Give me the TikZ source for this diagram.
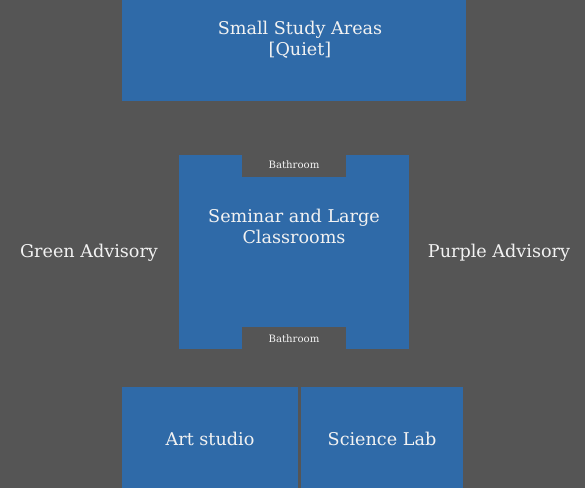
\documentclass[tikz,border=0pt]{standalone}
\usepackage{fontspec}
\setmainfont{DejaVu Serif}
\definecolor{floorbg}{HTML}{555555}
\definecolor{roomblue}{HTML}{2F6AA8}
\definecolor{labeltext}{HTML}{F2F2F2}
\tikzset{
  room/.style={fill=roomblue, draw=none},
  notch/.style={fill=floorbg, draw=none},
  roomlabel/.style={text=labeltext, font=\fontsize{13.2}{15.8}\selectfont, align=center, inner sep=0pt},
  smalllabel/.style={text=labeltext, font=\fontsize{7.6}{9}\selectfont, inner sep=0pt},
}
\begin{document}
\begin{tikzpicture}[x=0.75pt, y=-0.75pt]
  % canvas, 585 x 488 units
  \fill[floorbg] (0,0) rectangle (585,488);
  \useasboundingbox (0,0) rectangle (585,488);

  % study areas along the top
  \fill[room] (122,0) rectangle (465.5,101);
  \node[roomlabel] (study) at (300,40) {Small Study Areas\\{}[Quiet]};

  % central block with bathrooms cut into top and bottom
  \fill[room] (178.5,155) rectangle (408.5,349);
  \fill[notch] (242,155) rectangle (346,177.3);
  \fill[notch] (242,326.7) rectangle (346,349);
  \node[smalllabel] (bathtop) at (294,164.5) {Bathroom};
  \node[smalllabel] (bathbottom) at (294,339) {Bathroom};
  \node[roomlabel] (seminar) at (294,226.5) {Seminar and Large\\Classrooms};

  % advisories on either side
  \node[roomlabel] (green) at (89,253) {Green Advisory};
  \node[roomlabel] (purple) at (499,253) {Purple Advisory};

  % studio and lab along the bottom
  \fill[room] (122,386.7) rectangle (298.3,488);
  \fill[room] (300.7,386.7) rectangle (463.3,488);
  \node[roomlabel] (art) at (210,439) {Art studio};
  \node[roomlabel] (lab) at (382,439) {Science Lab};
\end{tikzpicture}
\end{document}
